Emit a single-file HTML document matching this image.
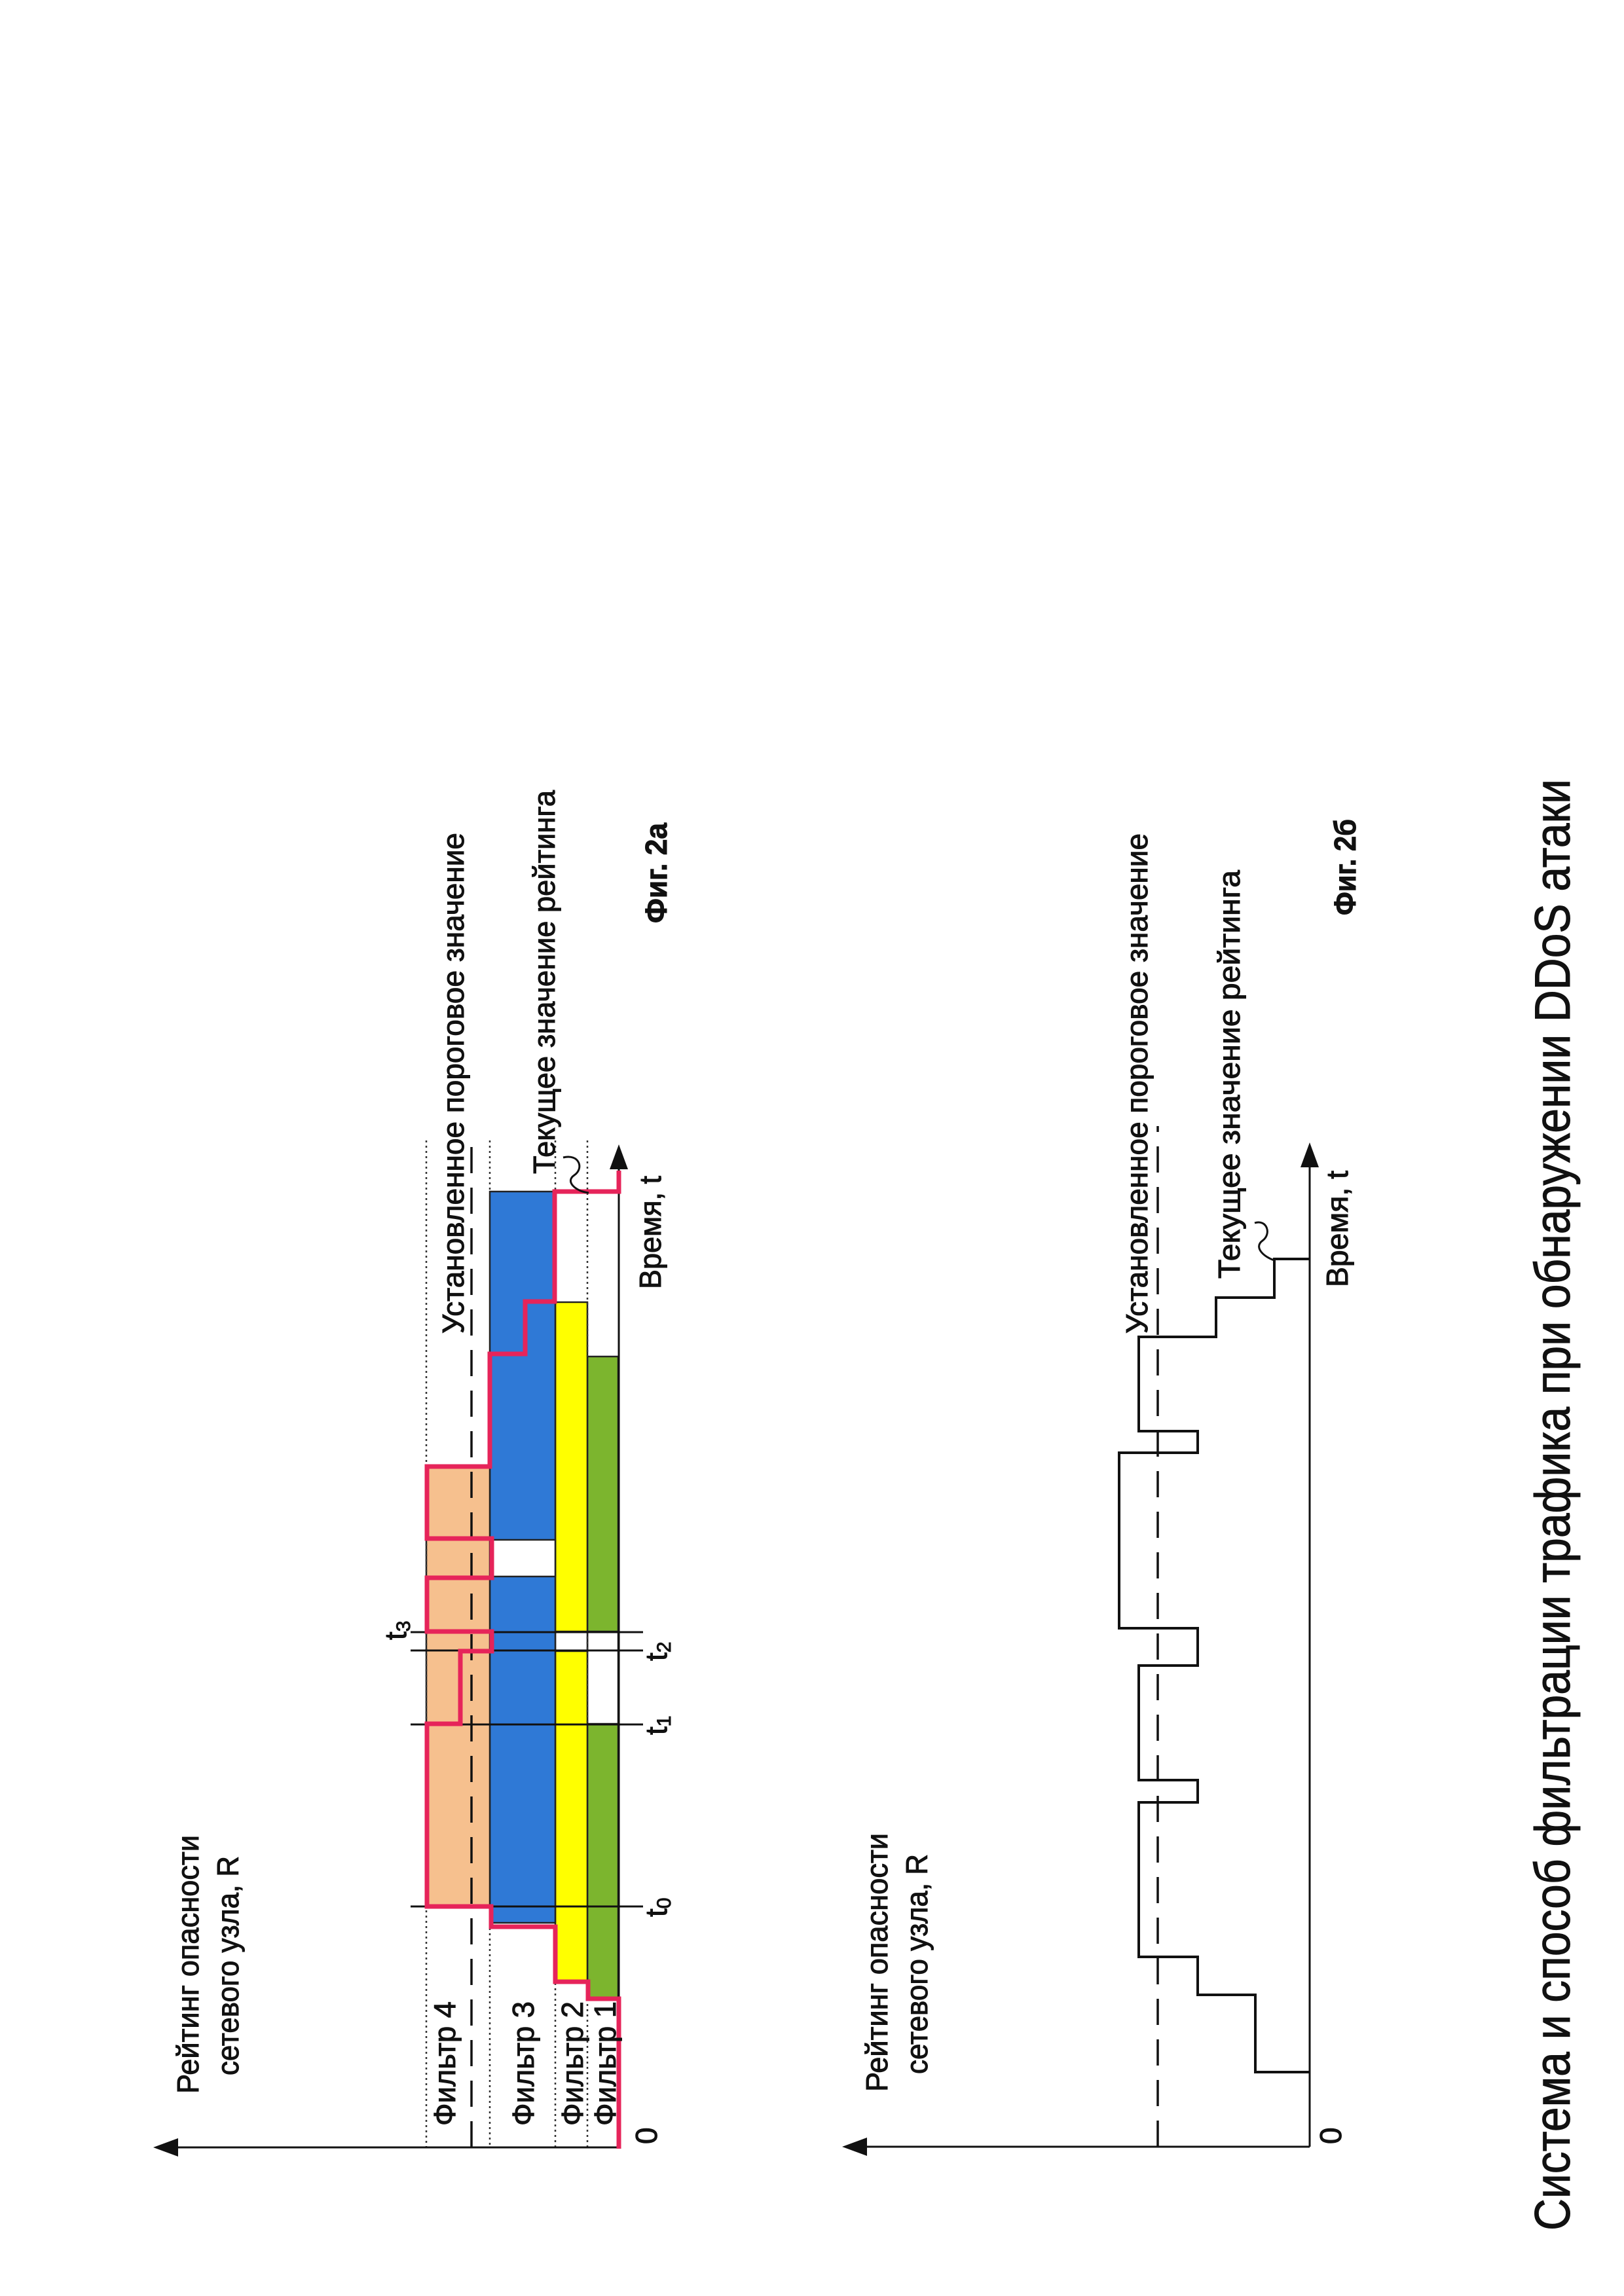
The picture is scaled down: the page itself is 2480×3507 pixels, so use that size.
<!DOCTYPE html>
<html><head><meta charset="utf-8"><style>html,body{margin:0;padding:0;background:#fff}svg{display:block}text{stroke:#111;stroke-width:1}</style></head>
<body>
<svg xmlns="http://www.w3.org/2000/svg" width="2480" height="3507" viewBox="0 0 2480 3507" font-family="Liberation Sans, DejaVu Sans, sans-serif">
<rect width="2480" height="3507" fill="#fff"/>
<!-- Fig 2a -->
<g stroke="#222" stroke-width="2.5">
<rect x="897" y="2072" width="47" height="981" fill="#7cb52e"/>
<rect x="897" y="2492" width="47" height="141" fill="#fff"/>
<rect x="848" y="1989" width="49" height="1040" fill="#ffff00"/>
<rect x="848" y="2492" width="49" height="30" fill="#fff"/>
<rect x="748" y="1820" width="100" height="1117" fill="#2f79d6"/>
<rect x="748" y="2352" width="100" height="56" fill="#fff"/>
<rect x="651" y="2240" width="97" height="673" fill="#f6c08e"/>
</g>
<g stroke="#333" stroke-width="2.5" stroke-dasharray="3,5">
<line x1="651" y1="1742" x2="651" y2="3280"/>
<line x1="748" y1="1742" x2="748" y2="1820"/><line x1="748" y1="2937" x2="748" y2="3280"/>
<line x1="848" y1="1742" x2="848" y2="1989"/><line x1="848" y1="3029" x2="848" y2="3280"/>
<line x1="897" y1="1742" x2="897" y2="2072"/><line x1="897" y1="3053" x2="897" y2="3280"/>
<line x1="897" y1="2492" x2="897" y2="2633"/>
</g>
<line x1="720" y1="3280" x2="720" y2="1740" stroke="#111" stroke-width="3.5" stroke-dasharray="40,22"/>
<g stroke="#111" stroke-width="3">
<line x1="627" y1="2912" x2="982" y2="2912"/>
<line x1="627" y1="2634" x2="982" y2="2634"/>
<line x1="627" y1="2521" x2="982" y2="2521"/>
<line x1="627" y1="2493" x2="982" y2="2493"/>
<line x1="270" y1="3280" x2="945" y2="3280"/>
<line x1="945" y1="3280" x2="945" y2="1780"/>
</g>
<polygon points="234,3280 272,3266 272,3294" fill="#111"/>
<polygon points="945,1748 931,1786 959,1786" fill="#111"/>
<polyline fill="none" stroke="#e6245a" stroke-width="7" stroke-linejoin="miter" points="945,3282 945,3053 898,3053 898,3027 848,3027 848,2943 750,2943 750,2912 652,2912 652,2633 703,2633 703,2522 751,2522 751,2492 652,2492 652,2410 751,2410 751,2350 652,2350 652,2240 748,2240 748,2068 802,2068 802,1988 847,1988 847,1820 945,1820 945,1788"/>
<path d="M860,1768 C885,1762 892,1785 877,1795 S880,1820 899,1822" fill="none" stroke="#111" stroke-width="3"/>
<g fill="#111" font-size="46">
<text transform="translate(303,3198) rotate(-90)" textLength="395" lengthAdjust="spacingAndGlyphs">Рейтинг опасности</text>
<text transform="translate(364,3170) rotate(-90)" textLength="335" lengthAdjust="spacingAndGlyphs">сетевого узла, R</text>
<text transform="translate(695,3247) rotate(-90)" textLength="190" lengthAdjust="spacingAndGlyphs">Фильтр 4</text>
<text transform="translate(815,3247) rotate(-90)" textLength="190" lengthAdjust="spacingAndGlyphs">Фильтр 3</text>
<text transform="translate(890,3247) rotate(-90)" textLength="190" lengthAdjust="spacingAndGlyphs">Фильтр 2</text>
<text transform="translate(940,3247) rotate(-90)" textLength="190" lengthAdjust="spacingAndGlyphs">Фильтр 1</text>
<text transform="translate(708,2037) rotate(-90)" textLength="765" lengthAdjust="spacingAndGlyphs">Установленное пороговое значение</text>
<text transform="translate(847,1793) rotate(-90)" textLength="586" lengthAdjust="spacingAndGlyphs">Текущее значение рейтинга</text>
<text transform="translate(1009,1969) rotate(-90)" textLength="173" lengthAdjust="spacingAndGlyphs">Время, t</text>
<text transform="translate(1018,1410) rotate(-90)" font-weight="bold" textLength="153" lengthAdjust="spacingAndGlyphs">Фиг. 2а</text>
<text transform="translate(1003,3275) rotate(-90)">0</text>
<text transform="translate(1018,2928) rotate(-90)">t<tspan font-size="30" dy="6">0</tspan></text>
<text transform="translate(1018,2650) rotate(-90)">t<tspan font-size="30" dy="6">1</tspan></text>
<text transform="translate(1018,2537) rotate(-90)">t<tspan font-size="30" dy="6">2</tspan></text>
<text transform="translate(620,2505) rotate(-90)">t<tspan font-size="30" dy="6">3</tspan></text>
</g>
<!-- Fig 2b -->
<line x1="1768" y1="3279" x2="1768" y2="1720" stroke="#111" stroke-width="3.5" stroke-dasharray="40,22"/>
<g stroke="#111" stroke-width="3">
<line x1="1320" y1="3279" x2="2000" y2="3279"/>
<line x1="2000" y1="3279" x2="2000" y2="1775"/>
</g>
<polygon points="1286,3279 1324,3265 1324,3293" fill="#111"/>
<polygon points="2000,1745 1986,1783 2014,1783" fill="#111"/>
<polyline fill="none" stroke="#111" stroke-width="4" points="2000,3165 1917,3165 1917,3047 1829,3047 1829,2989 1739,2989 1739,2753 1829,2753 1829,2719 1739,2719 1739,2544 1829,2544 1829,2487 1709,2487 1709,2219 1829,2219 1829,2186 1739,2186 1739,2042 1857,2042 1857,1982 1946,1982 1946,1923 2000,1923"/>
<path d="M1916,1868 C1935,1862 1942,1885 1928,1895 S1930,1920 1946,1925" fill="none" stroke="#111" stroke-width="3"/>
<g fill="#111" font-size="46">
<text transform="translate(1355,3195) rotate(-90)" textLength="395" lengthAdjust="spacingAndGlyphs">Рейтинг опасности</text>
<text transform="translate(1416,3168) rotate(-90)" textLength="336" lengthAdjust="spacingAndGlyphs">сетевого узла, R</text>
<text transform="translate(1752,2037) rotate(-90)" textLength="764" lengthAdjust="spacingAndGlyphs">Установленное пороговое значение</text>
<text transform="translate(1893,1953) rotate(-90)" textLength="624" lengthAdjust="spacingAndGlyphs">Текущее значение рейтинга</text>
<text transform="translate(2058,1966) rotate(-90)" textLength="178" lengthAdjust="spacingAndGlyphs">Время, t</text>
<text transform="translate(2070,1398) rotate(-90)" font-weight="bold" textLength="147" lengthAdjust="spacingAndGlyphs">Фиг. 2б</text>
<text transform="translate(2048,3275) rotate(-90)">0</text>
</g>
<text transform="translate(2397,3407) rotate(-90)" font-size="76" fill="#111" textLength="2217" lengthAdjust="spacingAndGlyphs">Система и способ фильтрации трафика при обнаружении DDoS атаки</text>
</svg>
</body></html>
